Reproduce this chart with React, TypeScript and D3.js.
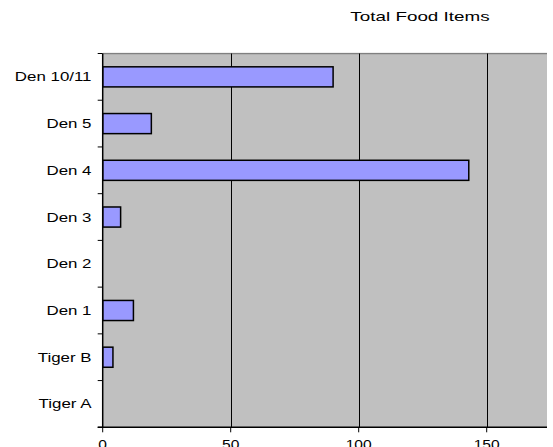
import React from "react";
import * as d3 from "d3";

const categories = ["Den 10/11", "Den 5", "Den 4", "Den 3", "Den 2", "Den 1", "Tiger B", "Tiger A"];
const values = [90, 19, 143, 7, 0, 12, 4, 0];
const xTicks = [0, 50, 100, 150];
const title = "Total Food Items";

export default function App() {
  const W = 553, H = 447;
  const left = 102.7, top = 53.5, bottom = 427.3, right = 547;
  const x = d3.scaleLinear().domain([0, 200]).range([left, left + 512]);
  const y = d3.scaleBand<string>().domain(categories).range([top, bottom]).paddingInner(0.57).paddingOuter(0.285);
  const step = (bottom - top) / categories.length;
  const font = "'Liberation Sans', Arial, sans-serif";
  return (
    <svg width={W} height={H} style={{ position: "absolute", left: 0, top: 0, background: "#fff" }}>
      <defs>
        <clipPath id="plotclip">
          <rect x={left} y={top - 1} width={right - left} height={bottom - top + 2} />
        </clipPath>
      </defs>
      <text transform={`translate(420,21) scale(1.45,1)`} fontFamily={font} fontSize={13} textAnchor="middle" fill="#000">{title}</text>
      <g clipPath="url(#plotclip)">
        <rect x={left} y={top} width={right - left} height={bottom - top} fill="#C0C0C0" />
        <line x1={left} x2={right} y1={top} y2={top} stroke="#808080" strokeWidth={1.5} />
        {xTicks.filter(t => t > 0).map(t => (
          <line key={t} x1={Math.round(x(t)) + 0.5} x2={Math.round(x(t)) + 0.5} y1={top} y2={bottom} stroke="#000" strokeWidth={1} />
        ))}
        {categories.map((c, i) => values[i] > 0 ? (
          <rect key={c} x={x(0)} y={y(c)!} width={x(values[i]) - x(0)} height={y.bandwidth()} fill="#9999FF" stroke="#000" strokeWidth={1.5} />
        ) : null)}
      </g>
      <line x1={left} x2={left} y1={top} y2={bottom} stroke="#000" strokeWidth={1.5} />
      <line x1={left - 5} x2={right} y1={bottom} y2={bottom} stroke="#000" strokeWidth={1.5} />
      {d3.range(categories.length + 1).map(i => (
        <line key={i} x1={left - 5} x2={left} y1={top + i * step} y2={top + i * step} stroke="#000" strokeWidth={1} />
      ))}
      {xTicks.map(t => (
        <g key={t}>
          <line x1={x(t)} x2={x(t)} y1={bottom} y2={bottom + 5} stroke="#000" strokeWidth={1} />
          <text transform={`translate(${x(t)},448.5) scale(1.2,1)`} fontFamily={font} fontSize={13} textAnchor="middle" fill="#000">{t}</text>
        </g>
      ))}
      {categories.map(c => (
        <text key={c} transform={`translate(91.5,${y(c)! + y.bandwidth() / 2}) scale(1.3,1)`} dy="0.35em" fontFamily={font} fontSize={13} textAnchor="end" fill="#000">{c}</text>
      ))}
    </svg>
  );
}
